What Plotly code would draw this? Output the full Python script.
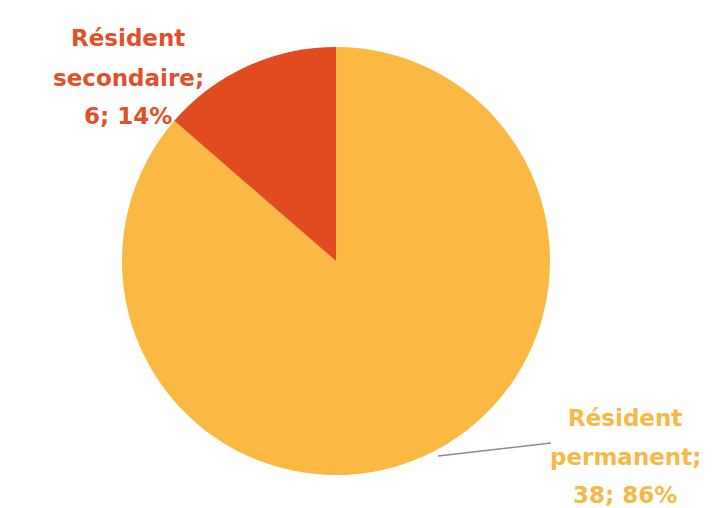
import plotly.graph_objects as go

# data (permanent first: drawn clockwise from 12 o'clock, so the
# small slice ends up just left of the top)
categories = ["Résident permanent", "Résident secondaire"]
counts = [38, 6]
colors = ["#FBB843", "#E24A1F"]
text_colors = ["#F8B845", "#E2502A"]

W, H = 721, 508
total = sum(counts)
pcts = [round(100 * c / total) for c in counts]


def px(x, y):
    # pixel -> paper coords
    return x / W, 1 - y / H


fig = go.Figure()

# circle of ~430px; offsets tuned so it lands centred near (336, 260)
cx, cy, r = 328, 253, 214
x0, y1 = px(cx - r, cy - r)
x1, y0 = px(cx + r, cy + r)
fig.add_trace(go.Pie(
    labels=categories,
    values=counts,
    sort=False,
    direction="clockwise",
    rotation=0,
    marker=dict(colors=colors, line=dict(width=0)),
    textinfo="none",
    hoverinfo="label+value+percent",
    domain=dict(x=[x0, x1], y=[y0, y1]),
    showlegend=False,
))

# labels: "Name; value; pct%" split over three lines like the original
label_pos = [(617, [410, 449, 487]), (120, [30, 70, 108])]
for i, cat in enumerate(categories):
    first, second = cat.split(" ", 1)
    lines = [first, second + ";", f"{counts[i]}; {pcts[i]}%"]
    lx, ys = label_pos[i]
    for txt, ly in zip(lines, ys):
        ax, ay = px(lx, ly)
        fig.add_annotation(
            x=ax, y=ay, xref="paper", yref="paper",
            text=f"<b>{txt}</b>", showarrow=False,
            xanchor="center", yanchor="middle",
            font=dict(family="DejaVu Sans", size=23, color=text_colors[i]),
        )

# leader line to the permanent label
lx0, ly0 = px(430, 448)
lx1, ly1 = px(543, 435)
fig.add_shape(type="line", xref="paper", yref="paper",
              x0=lx0, y0=ly0, x1=lx1, y1=ly1,
              line=dict(color="#8C8C8C", width=1.5))

fig.update_layout(
    width=W, height=H,
    margin=dict(l=0, r=0, t=0, b=0),
    paper_bgcolor="white",
    plot_bgcolor="white",
)

fig.write_html("out.html")
